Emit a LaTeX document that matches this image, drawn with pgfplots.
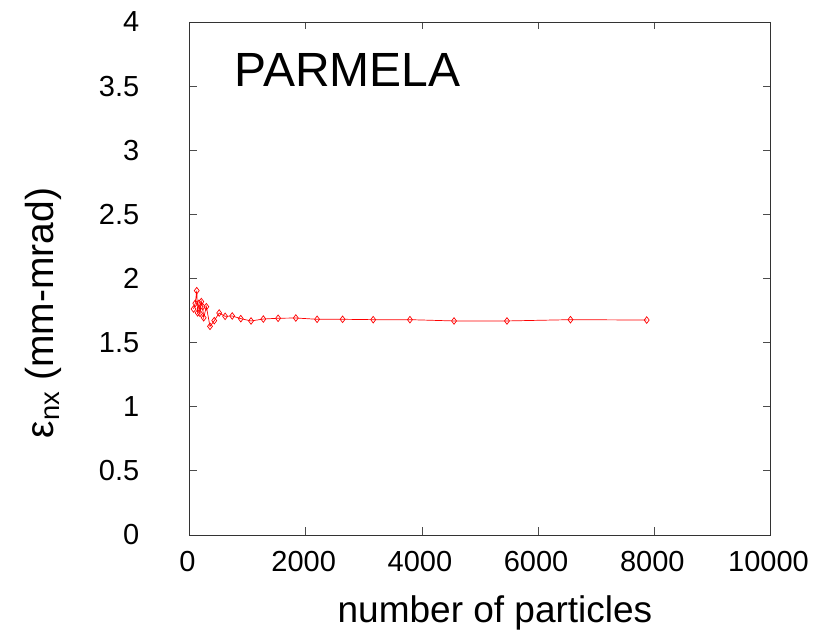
\documentclass[border=0pt]{standalone}
\usepackage{fontspec}
\setmainfont{Liberation Sans}
\usepackage{pgfplots}
\pgfplotsset{compat=1.18}

\begin{document}
\begin{tikzpicture}
\begin{axis}[
  name=ax,
  scale only axis,
  width=581bp, height=513bp,
  xmin=0, xmax=10000, ymin=0, ymax=4,
  xtick={0,2000,4000,6000,8000,10000},
  ytick={0,0.5,1,1.5,2,2.5,3,3.5,4},
  yticklabels={0,0.5,1,1.5,2,2.5,3,3.5,4},
  scaled x ticks=false,
  xticklabel style={/pgf/number format/1000 sep={}},
  /pgf/number format/assume math mode=true,
  tick align=inside,
  major tick length=7.5bp,
  minor tick num=0,
  axis line style={line width=0.8bp, black!80},
  tick style={line width=0.8bp, black!70},
  ticklabel style={font=\fontsize{29bp}{34bp}\selectfont, inner sep=0pt},
  xticklabel style={anchor=north, yshift=-16.5bp, xshift=-2bp},
  yticklabel style={anchor=east, xshift=-50bp},
  xlabel={number of particles},
  ylabel={ε\textsubscript{nx} (mm-mrad)},
  xlabel style={font=\fontsize{37bp}{42bp}\selectfont, inner sep=0pt,
                at={(axis description cs:0.5258,-0.1715)}, anchor=base},
  ylabel style={font=\fontsize{39bp}{44bp}\selectfont, inner sep=0pt,
                at={(axis description cs:-0.2522,0.4327)}, anchor=center},
]
\addplot[red, line width=0.7bp, mark=diamond, mark size=3.3bp,
         mark options={solid, line width=0.7bp}]
  coordinates {
    (70,1.762) (100,1.807) (125,1.905) (140,1.732) (163,1.807)
    (181,1.728) (203,1.820) (226,1.780) (244,1.694) (290,1.780)
    (353,1.627) (426,1.671) (511,1.731) (613,1.705) (735,1.708)
    (883,1.687) (1059,1.669) (1271,1.684) (1525,1.690) (1830,1.692)
    (2196,1.682) (2635,1.682) (3162,1.679) (3794,1.679) (4553,1.669)
    (5464,1.669) (6557,1.679) (7869,1.676)
  };
\node[anchor=base west, inner sep=0pt, font=\fontsize{48bp}{54bp}\selectfont]
  at (axis cs:776,3.495) {PARMELA};
\end{axis}
\path ([xshift=-189.5bp,yshift=-97bp]ax.south west)
  rectangle ([xshift=43.5bp,yshift=22bp]ax.north east);
\end{tikzpicture}
\end{document}
